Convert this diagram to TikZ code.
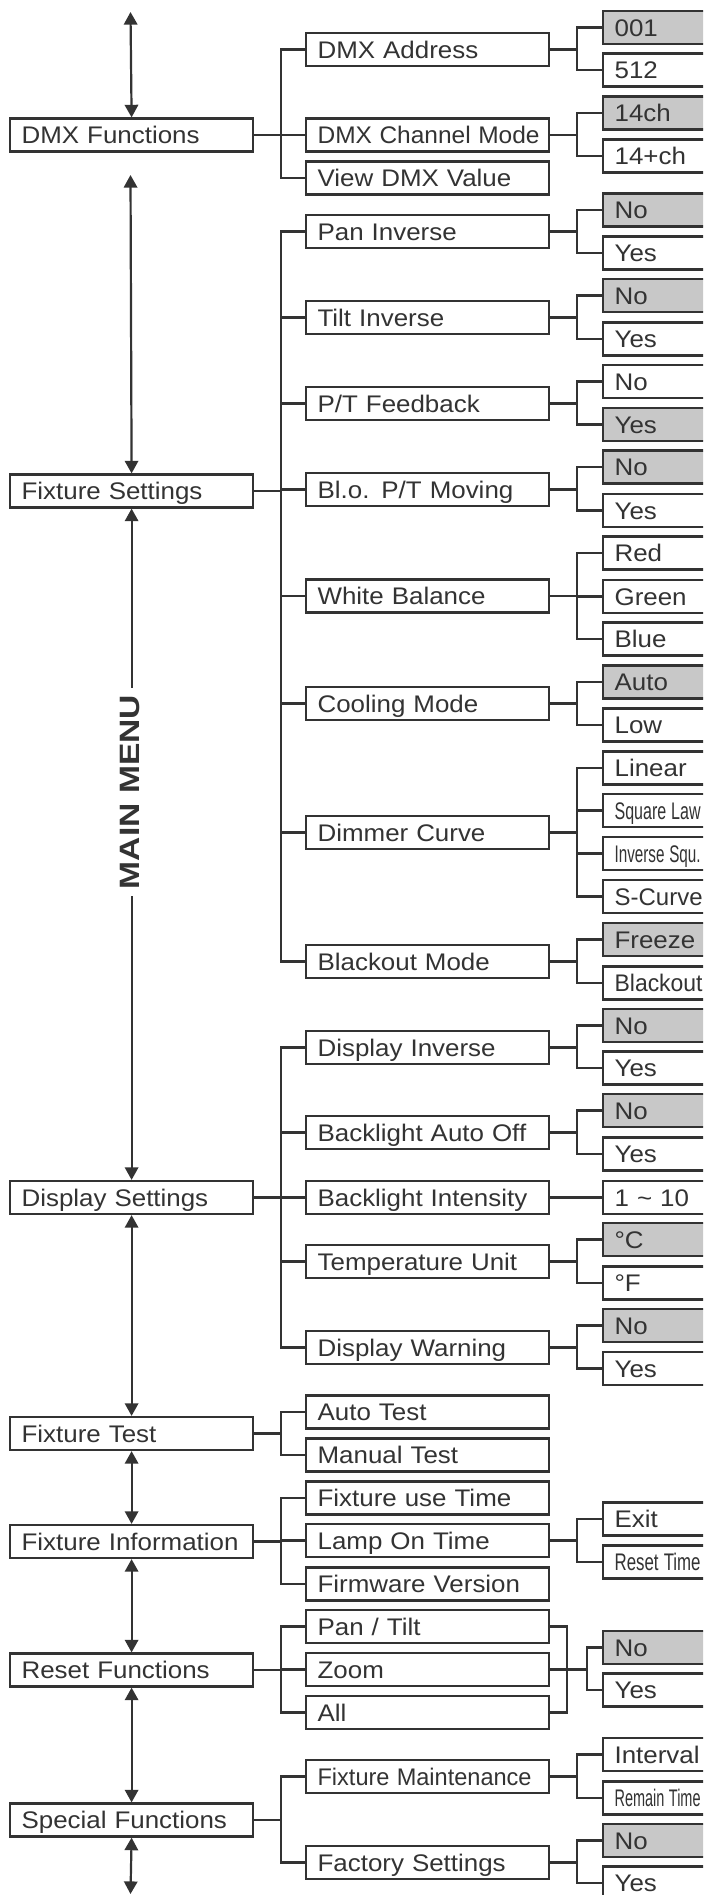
\documentclass[tikz,border=0pt]{standalone}
\usepackage{fontspec}
\setmainfont{Liberation Sans}[FakeStretch=1.08]
\newfontfamily\menufont{Liberation Sans}[FakeStretch=1.2]
\usetikzlibrary{arrows.meta}
\definecolor{linegrey}{HTML}{333333}
\definecolor{selgrey}{HTML}{C8C8C8}
\newcommand{\squeeze}[2]{\resizebox{#1}{\height}{#2}}
\tikzset{
  >={Triangle[length=6.3pt,width=6.7pt]},
  link/.style={line width=1.1pt},
  menubox/.style={draw, fill=white, line width=1.1pt, anchor=west,
    minimum height=16.5pt, text width=110pt, inner xsep=5.75pt, inner ysep=0pt,
    align=left, text height=8.6pt, text depth=0pt},
  valbox/.style={menubox, text width=48pt}
}

\begin{document}
\begin{tikzpicture}[x=0.5pt, y=-0.5pt, color=linegrey, font=\fontsize{12}{13}\selectfont]
  \useasboundingbox (0,0) rectangle (703,1895);
  \clip (0,0) rectangle (703,1895);

  \node[menubox] (dmx) at (9,135) {DMX Functions};
  \node[menubox] (fset) at (9,491) {Fixture Settings};
  \node[menubox] (dset) at (9,1197.5) {Display Settings};
  \node[menubox] (ftest) at (9,1433.5) {Fixture Test};
  \node[menubox] (finfo) at (9,1541.5) {Fixture Information};
  \node[menubox] (reset) at (9,1670) {Reset Functions};
  \node[menubox] (spec) at (9,1820) {Special Functions};

  \node[menubox] (addr) at (305,49.5) {DMX Address};
  \node[menubox] (chmode) at (305,135) {\squeeze{111pt}{DMX Channel Mode}};
  \node[menubox] (viewdmx) at (305,178) {View DMX Value};
  \node[menubox] (pan) at (305,231.5) {Pan Inverse};
  \node[menubox] (tilt) at (305,317.5) {Tilt Inverse};
  \node[menubox] (ptfb) at (305,403.5) {P/T Feedback};
  \node[menubox] (blo) at (305,489.5) {Bl.o. P/T Moving};
  \node[menubox] (wbal) at (305,596) {White Balance};
  \node[menubox] (cool) at (305,703.5) {Cooling Mode};
  \node[menubox] (dimm) at (305,832.5) {Dimmer Curve};
  \node[menubox] (bmode) at (305,961.5) {Blackout Mode};
  \node[menubox] (dinv) at (305,1047.5) {Display Inverse};
  \node[menubox] (blauto) at (305,1132.5) {Backlight Auto Off};
  \node[menubox] (blint) at (305,1197.5) {Backlight Intensity};
  \node[menubox] (tunit) at (305,1261.5) {Temperature Unit};
  \node[menubox] (dwarn) at (305,1347.5) {Display Warning};
  \node[menubox] (atest) at (305,1412) {Auto Test};
  \node[menubox] (mtest) at (305,1455) {Manual Test};
  \node[menubox] (usetime) at (305,1498) {Fixture use Time};
  \node[menubox] (lamp) at (305,1540.5) {Lamp On Time};
  \node[menubox] (firm) at (305,1584) {Firmware Version};
  \node[menubox] (pantilt) at (305,1626.5) {Pan / Tilt};
  \node[menubox] (zoom) at (305,1669.5) {Zoom};
  \node[menubox] (all) at (305,1712.5) {All};
  \node[menubox] (maint) at (305,1776.5) {\squeeze{107pt}{Fixture Maintenance}};
  \node[menubox] (factory) at (305,1862.5) {Factory Settings};

  \foreach \nm/\y/\col/\txt in {addrA/27.5/selgrey/001, addrB/70/white/512,
      chA/113/selgrey/14ch, chB/156/white/14+ch,
      panA/210/selgrey/No, panB/253/white/Yes,
      tiltA/295.5/selgrey/No, tiltB/339/white/Yes,
      ptfbA/381.5/white/No, ptfbB/424.5/selgrey/Yes,
      bloA/467/selgrey/No, bloB/510.5/white/Yes,
      wbA/553/white/Red, wbB/596.5/white/Green, wbC/639/white/Blue,
      coolA/682/selgrey/Auto, coolB/725/white/Low,
      dimA/768/white/Linear, dimB/810.5/white/{\squeeze{43pt}{Square Law}},
      dimC/853.5/white/{\squeeze{43pt}{Inverse Squ.}},
      dimD/896.5/white/{\squeeze{44pt}{S-Curve}},
      bmA/939.5/selgrey/Freeze, bmB/983/white/{\squeeze{44pt}{Blackout}},
      dinvA/1025.5/selgrey/No, dinvB/1068/white/Yes,
      blaA/1110.5/selgrey/No, blaB/1154/white/Yes,
      bliA/1197.5/white/{1 \textasciitilde{} 10},
      tuA/1239.5/selgrey/°C, tuB/1283/white/°F,
      dwA/1325.5/selgrey/No, dwB/1368.5/white/Yes,
      lampA/1519/white/Exit, lampB/1562/white/{\squeeze{43pt}{Reset Time}},
      rsA/1647.5/selgrey/No, rsB/1690/white/Yes,
      mtA/1754.5/white/Interval, mtB/1798/white/{\squeeze{43pt}{Remain Time}},
      fcA/1840.5/selgrey/No, fcB/1883/white/Yes}
    \node[valbox, fill=\col] (\nm) at (602,\y) {\txt};

  \foreach \p/\kids in {dmx/{addr,chmode,viewdmx},
      fset/{pan,tilt,ptfb,blo,wbal,cool,dimm,bmode},
      dset/{dinv,blauto,blint,tunit,dwarn}, ftest/{atest,mtest},
      finfo/{usetime,lamp,firm}, reset/{pantilt,zoom,all}, spec/{maint,factory},
      addr/{addrA,addrB}, chmode/{chA,chB}, pan/{panA,panB}, tilt/{tiltA,tiltB},
      ptfb/{ptfbA,ptfbB}, blo/{bloA,bloB}, wbal/{wbA,wbB,wbC}, cool/{coolA,coolB},
      dimm/{dimA,dimB,dimC,dimD}, bmode/{bmA,bmB}, dinv/{dinvA,dinvB},
      blauto/{blaA,blaB}, blint/{bliA}, tunit/{tuA,tuB}, dwarn/{dwA,dwB},
      lamp/{lampA,lampB}, maint/{mtA,mtB}, factory/{fcA,fcB}}
    \foreach \k in \kids
      \draw[link] (\p.east) -- ++(27,0) |- (\k.west);

  \coordinate (rjoin) at ([xshift=8.5pt]zoom.east);
  \draw[link] (pantilt.east) -| (rjoin) |- (all.east);
  \draw[link] (zoom.east) -- (rjoin) -- ++(20,0) coordinate (rfork) |- (rsA.west);
  \draw[link] (rfork) |- (rsB.west);

  \coordinate (topend) at (130.5,12);
  \coordinate (dmxgap) at (130.5,175);
  \coordinate (botend) at (130.5,1894);
  \draw[link,<->] (topend) -- (dmx.north);
  \draw[link,<->] (dmxgap) -- (fset.north);
  \draw[link,<->] (fset.south) -- (dset.north);
  \draw[link,<->] (dset.south) -- (ftest.north);
  \draw[link,<->] (ftest.south) -- (finfo.north);
  \draw[link,<->] (finfo.south) -- (reset.north);
  \draw[link,<->] (reset.south) -- (spec.north);
  \draw[link,<->] (spec.south) -- (botend);
  \node[rotate=90, fill=white, inner xsep=3.5pt,
    font=\menufont\bfseries\fontsize{14}{15}\selectfont] (mainmenu) at (130.5,792) {MAIN MENU};
\end{tikzpicture}
\end{document}
